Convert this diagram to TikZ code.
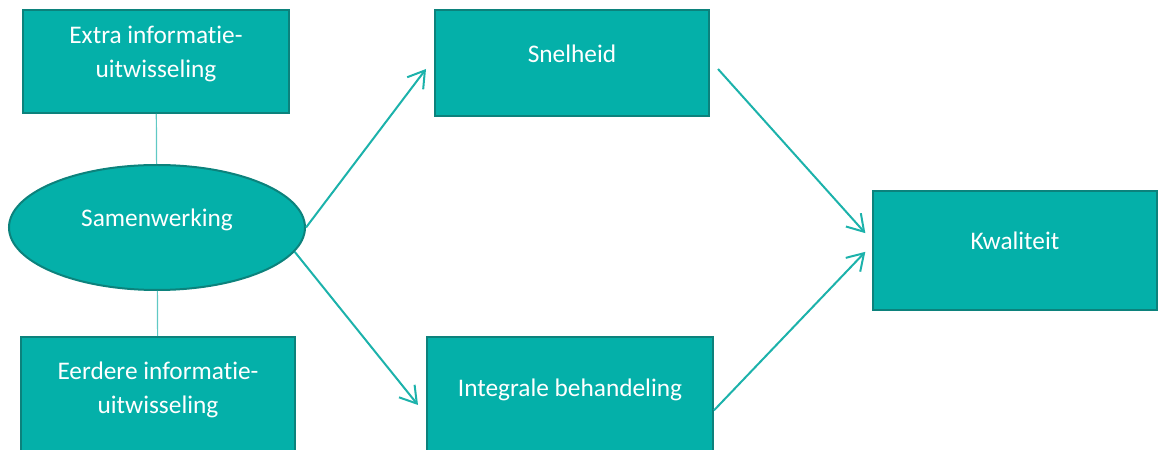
\documentclass[tikz,border=0pt]{standalone}
\usepackage{fontspec}
\setmainfont{Carlito}[RawFeature=-liga]
\usetikzlibrary{arrows.meta, shapes.geometric}

\definecolor{tealfill}{RGB}{4,176,169}
\definecolor{tealdraw}{RGB}{12,130,124}
\definecolor{tealline}{RGB}{28,178,171}

\begin{document}
\begin{tikzpicture}[x=0.75pt, y=0.75pt,
every node/.style = {draw=tealdraw, line width=1.5pt, fill=tealfill,
                     text=white, align=center, inner sep=2pt,
                     font=\fontsize{19}{25.5}\selectfont,
                     text depth=14pt},
box/.style = {rectangle},
oval/.style = {ellipse},
arrow/.style = {draw=tealline, line width=1.5pt,
                -{Straight Barb[length=12pt,width=15pt]}},
link/.style = {draw=tealline!70, line width=0.9pt},
                    ]
\useasboundingbox (0,0) rectangle (1158,450);
%-------
\node (extra)   [box, minimum width=199.5pt, minimum height=77.25pt]
                at (156,388.5)  {Extra informatie-\\uitwisseling};
\node (samen)   [oval, minimum width=222pt, minimum height=93.75pt]
                at (157,222.5)  {Samenwerking};
\node (eerdere) [box, minimum width=205.5pt, minimum height=90pt]
                at (158,53)     {Eerdere informatie-\\uitwisseling};
%
\node (snel)    [box, minimum width=205.5pt, minimum height=79.5pt]
                at (572,387)    {Snelheid};
\node (integ)   [box, minimum width=214.5pt, minimum height=90pt]
                at (570,53)     {Integrale behandeling};
%
\node (kwal)    [box, minimum width=213pt, minimum height=89.25pt]
                at (1015,199.5) {Kwaliteit};
% links
\path[every edge/.style={link}]
        (extra) edge (samen)
        (samen) edge (eerdere);
% edges
\path[every edge/.style={arrow}]
        (samen.east)    edge ([xshift=-6pt,yshift=-4.5pt] snel.west)
        (samen.-10)     edge ([xshift=-6pt,yshift=-6pt] integ.west)
%---
([xshift=6pt,yshift=-4.5pt] snel.east)  edge ([xshift=-5pt,yshift=13pt] kwal.west)
([yshift=-10pt] integ.east)             edge ([xshift=-5pt,yshift=-1pt] kwal.west);
\end{tikzpicture}
\end{document}
